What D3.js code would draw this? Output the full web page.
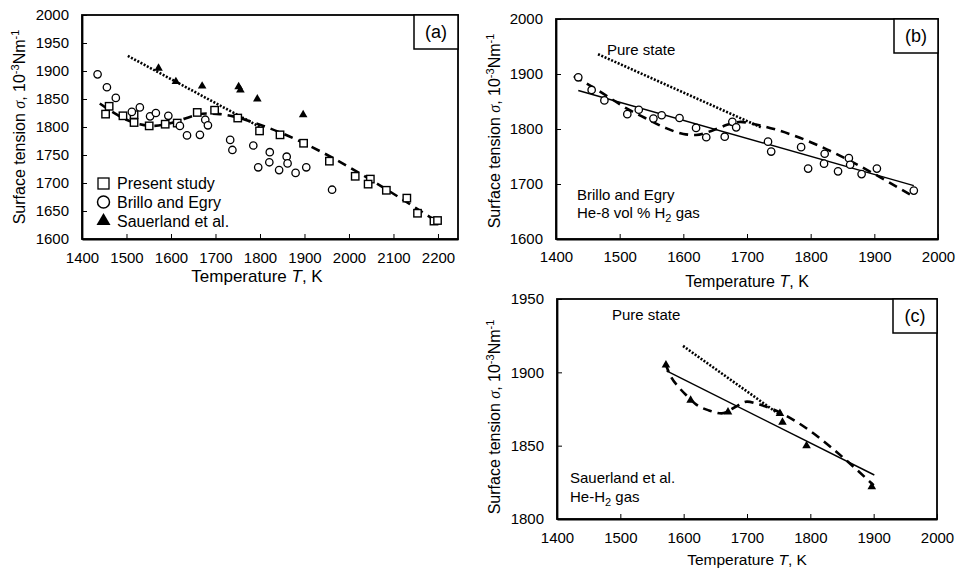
<!DOCTYPE html>
<html>
<head>
<meta charset="utf-8">
<script src="https://cdn.jsdelivr.net/npm/d3@7"></script>
<style>
body { margin: 0; background: #fff; }
svg { font-family: "Liberation Sans", Arial, sans-serif; }
.axis path, .axis line { stroke: #000; }
.axis text { font-size: 15px; fill: #000; font-family: "Liberation Sans", Arial, sans-serif; }
</style>
</head>
<body>
<div id="chart"></div>
<script>
/* data */
var presentT = [1453,1461,1492,1517,1517,1551,1587,1614,1659,1698,1750,1799,1845,1898,1956,2014,2048,2043,2084,2130,2154,2191,2199];
var presentS = [1823,1837,1820,1822,1808,1802,1805,1807,1826,1830,1816,1793,1786,1771,1739,1712,1707,1698,1687,1673,1646,1632,1633];

var brilloT = [1435,1456,1476,1512,1530,1553,1566,1594,1620,1636,1665,1677,1683,1733,1738,1785,1796,1821,1822,1843,1860,1862,1880,1904,1962];
var brilloS = [1894,1871,1852,1827,1835,1819,1825,1820,1802,1785,1786,1813,1803,1777,1759,1767,1728,1737,1755,1723,1747,1735,1718,1728,1688];

var sauerT = [1572,1611,1670,1752,1756,1794,1897];
var sauerS = [1905,1881,1873,1872,1866,1850,1822];

/* panel (a) lines */
var pureA_T = [1503,1800];
var pureA_S = [1927,1800];
var fitA_T = [1440,1470,1500,1530,1560,1590,1620,1650,1680,1710,1740,1770,2200];
var fitA_S = [1842,1826,1813,1805,1802,1805,1812,1820,1824,1823,1819,1812,1630];

/* panel (b) lines */
var pureB_T = [1466,1724];
var pureB_S = [1936,1802];
var linB_T = [1435,1962];
var linB_S = [1870,1697];
var fitB_T = [1428,1455,1480,1510,1540,1570,1600,1620,1645,1670,1690,1710,1962];
var fitB_S = [1896,1878,1860,1838,1820,1803,1791,1789,1797,1808,1813,1809,1677];

/* panel (c) lines */
var pureC_T = [1599,1752];
var pureC_S = [1918,1871];
var linC_T = [1573,1901];
var linC_S = [1901,1830];
var fitC_T = [1571,1580,1592,1605,1620,1640,1660,1680,1700,1720,1900];
var fitC_S = [1906,1897,1890,1884,1878,1874,1872,1876,1880,1878,1823];

var ticksA_x = [1400,1500,1600,1700,1800,1900,2000,2100,2200];
var ticksA_y = [1600,1650,1700,1750,1800,1850,1900,1950,2000];
var ticksB_x = [1400,1500,1600,1700,1800,1900,2000];
var ticksB_y = [1600,1700,1800,1900,2000];
var ticksC_y = [1800,1850,1900,1950];

function zip(a, b) {
	return a.map(function (v, i) { return [v, b[i]]; });
}

var w = 959, h = 568;
var svg = d3.select("#chart").append("svg").attr("width", w).attr("height", h);

function panel(p) {
	var x = d3.scaleLinear().domain(p.xDomain).range([p.left, p.right]);
	var y = d3.scaleLinear().domain(p.yDomain).range([p.bottom, p.top]);
	var g = svg.append("g");

	/* frame */
	g.append("rect")
		.attr("x", p.left).attr("y", p.top)
		.attr("width", p.right - p.left).attr("height", p.bottom - p.top)
		.attr("fill", "none").attr("stroke", "#000").attr("stroke-width", 1.8);

	g.append("g")
		.attr("class", "axis")
		.attr("transform", "translate(0," + p.bottom + ")")
		.call(d3.axisBottom(x).tickValues(p.xTicks).tickSize(-5).tickSizeOuter(0).tickPadding(p.xPad).tickFormat(d3.format("d")))
		.call(function (a) { a.select(".domain").attr("stroke-width", 1.8); a.selectAll(".tick line").attr("stroke-width", 1); });

	g.append("g")
		.attr("class", "axis")
		.attr("transform", "translate(" + p.left + ",0)")
		.call(d3.axisLeft(y).tickValues(p.yTicks).tickSize(-5).tickSizeOuter(0).tickPadding(13).tickFormat(d3.format("d")))
		.call(function (a) { a.select(".domain").attr("stroke-width", 1.8); a.selectAll(".tick line").attr("stroke-width", 1); });

	var line = d3.line().x(function (d) { return x(d[0]); }).y(function (d) { return y(d[1]); });
	var curve = d3.line().curve(d3.curveMonotoneX).x(function (d) { return x(d[0]); }).y(function (d) { return y(d[1]); });

	if (p.solid) {
		g.append("path").datum(p.solid).attr("d", line)
			.attr("fill", "none").attr("stroke", "#000").attr("stroke-width", 1.4);
	}
	g.append("path").datum(p.dotted).attr("d", line)
		.attr("fill", "none").attr("stroke", "#000").attr("stroke-width", 2.6).attr("stroke-dasharray", "2,1.6");
	g.append("path").datum(p.dashed).attr("d", curve)
		.attr("fill", "none").attr("stroke", "#000").attr("stroke-width", 2.6).attr("stroke-dasharray", "9,6");

	if (p.squares) {
		g.selectAll("rect.sq").data(p.squares).enter().append("rect")
			.attr("class", "sq")
			.attr("x", function (d) { return x(d[0]) - 3.7; })
			.attr("y", function (d) { return y(d[1]) - 3.7; })
			.attr("width", 7.4).attr("height", 7.4)
			.attr("fill", "#fff").attr("stroke", "#000").attr("stroke-width", 1.4);
	}
	if (p.circles) {
		g.selectAll("circle.ci").data(p.circles).enter().append("circle")
			.attr("class", "ci")
			.attr("cx", function (d) { return x(d[0]); })
			.attr("cy", function (d) { return y(d[1]); })
			.attr("r", 3.7)
			.attr("fill", "#fff").attr("stroke", "#000").attr("stroke-width", 1.3);
	}
	if (p.triangles) {
		g.selectAll("path.tr").data(p.triangles).enter().append("path")
			.attr("class", "tr")
			.attr("d", d3.symbol().type(d3.symbolTriangle).size(32))
			.attr("transform", function (d) { return "translate(" + x(d[0]) + "," + y(d[1]) + ")"; })
			.attr("fill", "#000");
	}

	/* panel label box */
	g.append("rect")
		.attr("x", p.right - 44).attr("y", p.top)
		.attr("width", 44).attr("height", 34)
		.attr("fill", "#fff").attr("stroke", "#000").attr("stroke-width", 1.5);
	g.append("text")
		.attr("x", p.right - 22).attr("y", p.top + 23)
		.attr("text-anchor", "middle").style("font-size", "18px")
		.text(p.label);

	/* x axis title */
	var xt = g.append("text")
		.attr("x", p.xTitle[0]).attr("y", p.xTitle[1])
		.attr("text-anchor", "middle").style("font-size", p.xTitleSize + "px");
	xt.append("tspan").text("Temperature ");
	xt.append("tspan").style("font-style", "italic").text("T");
	xt.append("tspan").text(", K");

	/* y axis title */
	var yt = g.append("text")
		.attr("transform", "translate(" + p.yTitle[0] + "," + p.yTitle[1] + ") rotate(-90)")
		.attr("text-anchor", "middle").style("font-size", "16px");
	yt.append("tspan").text("Surface tension ");
	yt.append("tspan").style("font-style", "italic").style("font-family", "'Liberation Serif', serif").text("σ");
	yt.append("tspan").text(", 10");
	yt.append("tspan").attr("dy", -6).style("font-size", "11px").text("-3");
	yt.append("tspan").attr("dy", 6).text("Nm");
	yt.append("tspan").attr("dy", -6).style("font-size", "11px").text("-1");

	return g;
}

/* (a) */
var ga = panel({
	left: 82, right: 458, top: 15, bottom: 239,
	xDomain: [1400, 2245], yDomain: [1600, 2000],
	xTicks: ticksA_x, yTicks: ticksA_y, xPad: 13,
	dotted: zip(pureA_T, pureA_S), dashed: zip(fitA_T, fitA_S),
	squares: zip(presentT, presentS), circles: zip(brilloT, brilloS), triangles: zip(sauerT, sauerS),
	label: "(a)", xTitle: [257, 282], xTitleSize: 17, yTitle: [25, 127]
});

/* legend (a) */
var legendNames = ["Present study", "Brillo and Egry", "Sauerland et al."];
var legend = ga.append("g");
legend.append("rect").attr("x", 98).attr("y", 178).attr("width", 11).attr("height", 11)
	.attr("fill", "#fff").attr("stroke", "#000").attr("stroke-width", 1.3);
legend.append("circle").attr("cx", 103.5).attr("cy", 202).attr("r", 6)
	.attr("fill", "#fff").attr("stroke", "#000").attr("stroke-width", 1.5);
legend.append("path").attr("d", d3.symbol().type(d3.symbolTriangle).size(85))
	.attr("transform", "translate(103.5,221)").attr("fill", "#000");
legend.selectAll("text").data(legendNames).enter().append("text")
	.attr("x", 117)
	.attr("y", function (d, i) { return 189 + i * 19; })
	.style("font-size", "16px")
	.text(function (d) { return d; });

/* (b) */
var gb = panel({
	left: 556, right: 938, top: 19, bottom: 239,
	xDomain: [1400, 2000], yDomain: [1600, 2000],
	xTicks: ticksB_x, yTicks: ticksB_y, xPad: 12,
	solid: zip(linB_T, linB_S), dotted: zip(pureB_T, pureB_S), dashed: zip(fitB_T, fitB_S),
	circles: zip(brilloT, brilloS),
	label: "(b)", xTitle: [747, 287], xTitleSize: 16, yTitle: [500, 131]
});
gb.append("text").attr("x", 607).attr("y", 55).style("font-size", "15px").text("Pure state");
gb.append("text").attr("x", 577).attr("y", 200).style("font-size", "15px").text("Brillo and Egry");
var hb = gb.append("text").attr("x", 577).attr("y", 218).style("font-size", "15px");
hb.append("tspan").text("He-8 vol % H");
hb.append("tspan").attr("dy", 4).style("font-size", "11px").text("2");
hb.append("tspan").attr("dy", -4).text(" gas");

/* (c) */
var gc = panel({
	left: 557, right: 937, top: 299, bottom: 519,
	xDomain: [1400, 2000], yDomain: [1800, 1950],
	xTicks: ticksB_x, yTicks: ticksC_y, xPad: 13,
	solid: zip(linC_T, linC_S), dotted: zip(pureC_T, pureC_S), dashed: zip(fitC_T, fitC_S),
	triangles: zip(sauerT, sauerS),
	label: "(c)", xTitle: [747, 565], xTitleSize: 15.5, yTitle: [500, 417]
});
gc.append("text").attr("x", 612).attr("y", 320).style("font-size", "15px").text("Pure state");
gc.append("text").attr("x", 570).attr("y", 483).style("font-size", "15px").text("Sauerland et al.");
var hc = gc.append("text").attr("x", 570).attr("y", 502).style("font-size", "15px");
hc.append("tspan").text("He-H");
hc.append("tspan").attr("dy", 4).style("font-size", "11px").text("2");
hc.append("tspan").attr("dy", -4).text(" gas");
</script>
</body>
</html>
